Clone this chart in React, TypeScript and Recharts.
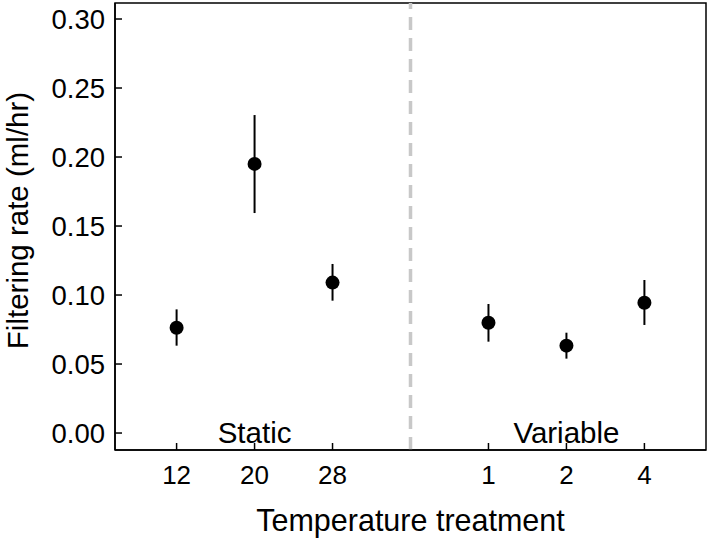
import { ComposedChart, Scatter, ErrorBar, XAxis, YAxis, ReferenceLine, ReferenceArea } from "recharts";

const FONT = "'Liberation Sans', Arial, Helvetica, sans-serif";

// treatments, in plotting order
const treatments = ["12", "20", "28", "1", "2", "4"];
const groups = ["Static", "Static", "Static", "Variable", "Variable", "Variable"];

// filtering rate means and error bar limits (ml/hr)
const means = [0.0763, 0.195, 0.109, 0.0799, 0.0633, 0.0944];
const lower = [0.0633, 0.1594, 0.0959, 0.0662, 0.0539, 0.0783];
const upper = [0.0896, 0.2304, 0.1225, 0.0935, 0.0727, 0.1109];

const yTicks = [0, 0.05, 0.1, 0.15, 0.2, 0.25, 0.3];

// slot on the x axis: one empty slot between the two groups
const slots = treatments.map((_, i) => i + 1 + (groups[i] === "Variable" ? 1 : 0));
const data = treatments.map((t, i) => ({
  slot: slots[i],
  label: t,
  rate: means[i],
  err: [means[i] - lower[i], upper[i] - means[i]],
}));
const divider = (slots[2] + slots[3]) / 2;
const groupCenters = [
  { name: "Static", x: slots[1] },
  { name: "Variable", x: slots[4] },
];

const xDomain = [0.21, 7.79];
const yDomain = [-0.0123, 0.3116];

const labelFor = (v: number) => {
  const i = slots.indexOf(v);
  return i >= 0 ? treatments[i] : "";
};

const YTick = (props: any) => {
  const { x, y, payload } = props;
  return (
    <g>
      <line x1={x} x2={x + 7} y1={y} y2={y} stroke="#000" strokeWidth={1.5} />
      <text x={x - 10} y={y} dy={10} textAnchor="end" fontSize={27.5} fontFamily={FONT} fill="#000">
        {payload.value.toFixed(2)}
      </text>
    </g>
  );
};

const XTick = (props: any) => {
  const { x, y, payload } = props;
  return (
    <g>
      <line x1={x} x2={x} y1={y} y2={y - 7} stroke="#000" strokeWidth={1.5} />
      <text x={x} y={y + 34} textAnchor="middle" fontSize={26} fontFamily={FONT} fill="#000">
        {labelFor(payload.value)}
      </text>
    </g>
  );
};

const Dot = (props: any) => {
  const { cx, cy } = props;
  if (!Number.isFinite(cx) || !Number.isFinite(cy)) return null;
  return <circle cx={cx} cy={cy} r={7} fill="#000" />;
};

export default function App() {
  return (
    <div style={{ position: "absolute", left: 0, top: 0, background: "#fff" }}>
      <ComposedChart width={709} height={538} data={data} margin={{ top: 3, right: 3, bottom: 0, left: 0 }}>
        <XAxis
          type="number"
          dataKey="slot"
          domain={xDomain}
          ticks={slots}
          allowDataOverflow
          height={88}
          axisLine={{ stroke: "#000", strokeWidth: 1.5 }}
          tickLine={false}
          tickSize={0}
          tickMargin={0}
          tick={<XTick />}
          label={({ viewBox }: any) => (
            <text
              x={viewBox.x + viewBox.width / 2}
              y={viewBox.y + 81}
              textAnchor="middle"
              fontSize={30.5}
              fontFamily={FONT}
              fill="#000"
            >
              Temperature treatment
            </text>
          )}
        />
        <YAxis
          type="number"
          domain={yDomain}
          ticks={yTicks}
          allowDataOverflow
          width={115}
          axisLine={{ stroke: "#000", strokeWidth: 1.5 }}
          tickLine={false}
          tickSize={0}
          tickMargin={0}
          tick={<YTick />}
          label={({ viewBox }: any) => {
            const cx = 28;
            const cy = viewBox.y + viewBox.height / 2 - 6;
            return (
              <text
                x={cx}
                y={cy}
                transform={`rotate(-90, ${cx}, ${cy})`}
                textAnchor="middle"
                fontSize={29.5}
                fontFamily={FONT}
                fill="#000"
              >
                Filtering rate (ml/hr)
              </text>
            );
          }}
        />
        <ReferenceArea
          x1={xDomain[0]}
          x2={xDomain[1]}
          y1={yDomain[0]}
          y2={yDomain[1]}
          fill="none"
          fillOpacity={0}
          stroke="#000"
          strokeWidth={1.5}
          ifOverflow="visible"
        />
        <ReferenceLine x={divider} stroke="#c8c8c8" strokeWidth={3.5} strokeDasharray="13 8" />
        {groupCenters.map((g) => (
          <ReferenceLine
            key={g.name}
            x={g.x}
            stroke="none"
            label={({ viewBox }: any) => (
              <text
                x={viewBox.x}
                y={viewBox.y + viewBox.height - 7}
                textAnchor="middle"
                fontSize={29.5}
                fontFamily={FONT}
                fill="#000"
              >
                {g.name}
              </text>
            )}
          />
        ))}
        <Scatter dataKey="rate" fill="#000" shape={<Dot />} isAnimationActive={false}>
          <ErrorBar dataKey="err" direction="y" width={0} stroke="#000" strokeWidth={2} isAnimationActive={false} />
        </Scatter>
      </ComposedChart>
    </div>
  );
}
